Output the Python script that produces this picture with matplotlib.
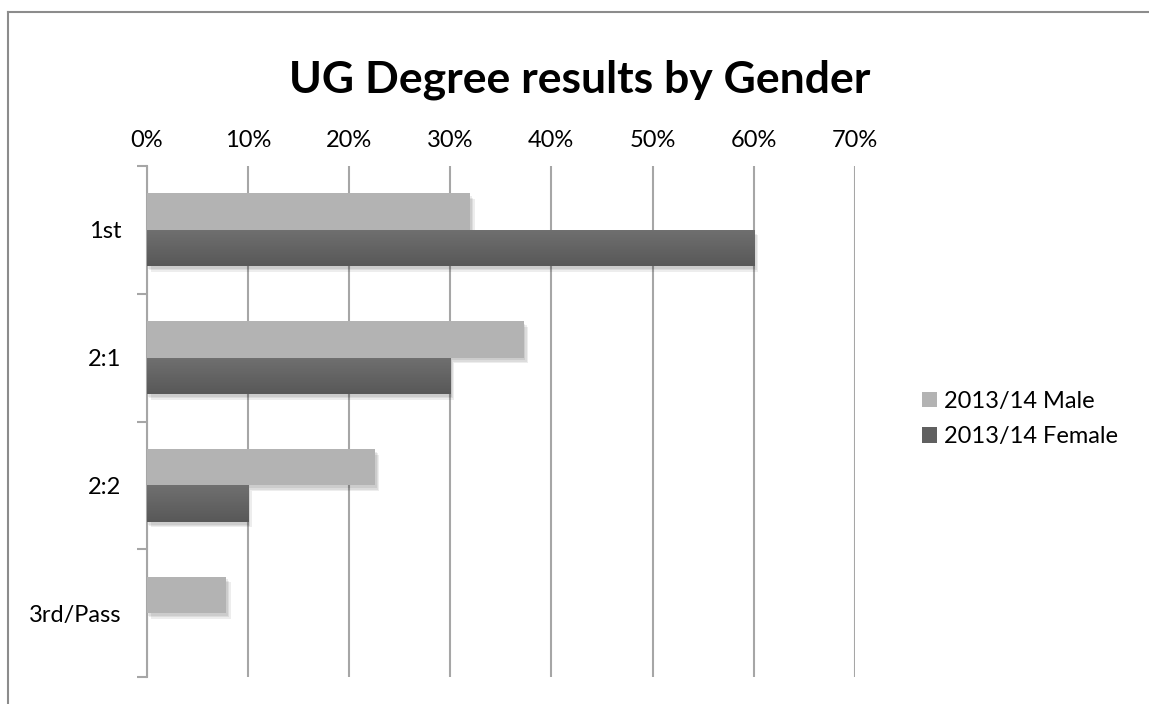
import numpy as np
import matplotlib
matplotlib.use("Agg")
import matplotlib.pyplot as plt
import matplotlib.patheffects as pe
from matplotlib.lines import Line2D
from matplotlib.patches import Patch

plt.rcParams['font.family'] = ['Lato', 'DejaVu Sans']

# degree classes, top to bottom
categories = ['1st', '2:1', '2:2', '3rd/Pass']
male = [32.0, 37.3, 22.6, 7.9]
female = [60.0, 30.0, 10.0, 0.0]
series_names = ['2013/14 Male', '2013/14 Female']
xticks = [0, 10, 20, 30, 40, 50, 60, 70]

male_col = '#b3b3b3'
female_col = '#656565'
grid_col = '#a6a6a6'
W, H = 1149, 704

fig = plt.figure(figsize=(W / 100, H / 100), dpi=100)
fig.patch.set_facecolor('white')

# outer chart frame (only top and left edges fall inside the image)
fig.add_artist(Line2D([8 / W, 8 / W], [0, 1 - 12 / H], transform=fig.transFigure,
                      color='#8c8c8c', lw=1.5))
fig.add_artist(Line2D([8 / W, 1], [1 - 12 / H, 1 - 12 / H], transform=fig.transFigure,
                      color='#8c8c8c', lw=1.5))

ax = fig.add_axes([146.5 / W, 1 - 677 / H, (855 - 146.5) / W, (677 - 166) / H])

y = np.arange(len(categories))
h = 0.285
# soft drop shadow: a few faint offset copies
shadow = [pe.SimplePatchShadow(offset=(o, -o - 1), shadow_rgbFace='black', alpha=0.07)
          for o in (1, 2, 3)] + [pe.Normal()]

ax.barh(y - h / 2, male, height=h, color=male_col, path_effects=shadow, zorder=3)
fem = [v if v > 0 else np.nan for v in female]
fbars = ax.barh(y + h / 2, fem, height=h, color=female_col, path_effects=shadow, zorder=3)

# vertical gradient on the female bars
grad = np.linspace(0, 1, 64).reshape(-1, 1)
cmap = matplotlib.colors.LinearSegmentedColormap.from_list('g', ['#707070', '#585858'])
for b in fbars:
    if not np.isfinite(b.get_width()):
        continue
    x0, y0 = b.get_x(), b.get_y()
    im = ax.imshow(grad, cmap=cmap, aspect='auto', zorder=3.5,
                   extent=(x0, x0 + b.get_width(), y0 + b.get_height(), y0))
    im.set_clip_path(b)

ax.set_xlim(0, 70)
ax.set_ylim(len(categories) - 0.5, -0.5)

ax.xaxis.tick_top()
ax.set_xticks(xticks)
ax.set_xticklabels([f'{t}%' for t in xticks], fontsize=17)
ax.tick_params(axis='x', length=0, pad=11)
ax.grid(axis='x', color=grid_col, lw=1.5, zorder=0)

ax.set_yticks(y)
ax.set_yticklabels(categories, fontsize=17)
ax.tick_params(axis='y', which='major', length=0, pad=18)
ax.set_yticks(np.arange(len(categories) + 1) - 0.5, minor=True)
ax.tick_params(axis='y', which='minor', length=7, width=1.5, color=grid_col, direction='out')

for s in ['top', 'right', 'bottom']:
    ax.spines[s].set_visible(False)
ax.spines['left'].set_color(grid_col)
ax.spines['left'].set_linewidth(1.5)

fig.text(580 / W, 1 - 92 / H, 'UG Degree results by Gender', ha='center', va='baseline',
         fontsize=32, fontweight='bold')

handles = [Patch(facecolor=male_col), Patch(facecolor='#606060')]
fig.legend(handles, series_names, loc='upper left', bbox_to_anchor=(922 / W, 1 - 391 / H),
           frameon=False, fontsize=17, handlelength=0.62, handleheight=0.62,
           handletextpad=0.3, labelspacing=0.6, borderaxespad=0, borderpad=0)

fig.savefig('out.png', dpi=100, facecolor='white')
